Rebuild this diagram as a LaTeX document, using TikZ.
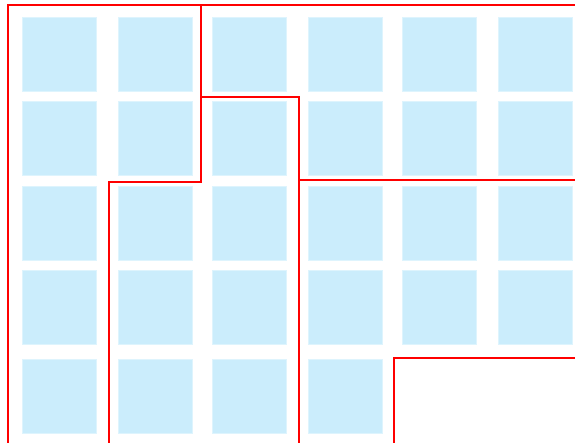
\documentclass[tikz,border=0pt]{standalone}
\definecolor{tile}{RGB}{203,237,252}
\definecolor{tileedge}{RGB}{222,244,253}
\definecolor{zone}{RGB}{255,0,0}
\begin{document}
\begin{tikzpicture}[x=1pt,y=-1pt,
  tilebox/.style={fill=tile,draw=tileedge,line width=0.6pt,minimum width=74pt,minimum height=74pt,inner sep=0pt,outer sep=0pt,anchor=north west},
  zoneline/.style={draw=zone,line width=2pt,line join=miter}]
\useasboundingbox (0,0) rectangle (575,443);
% tiles
\foreach \c/\x in {1/22.5,2/118.5,3/212.5,4/308,5/402.5,6/498}{
  \foreach \r/\y in {1/17.5,2/101.5,3/186.5,4/270.5}{
    \node[tilebox] (t\r\c) at (\x,\y) {};
  }
}
\foreach \c/\x in {1/22.5,2/118.5,3/212.5,4/308}{
  \node[tilebox] (t5\c) at (\x,359) {};
}
% zone boundaries
\draw[zoneline] (8,443) -- (8,5.5) -- (575,5.5);
\draw[zoneline] (201,5.5) -- (201,183.5);
\draw[zoneline] (201,182) -- (108.7,182) -- (108.7,443);
\draw[zoneline] (201,97.3) -- (298.7,97.3) -- (298.7,443);
\draw[zoneline] (298.7,180.5) -- (575,180.5);
\draw[zoneline] (575,357.8) -- (394,357.8) -- (394,443);
\end{tikzpicture}
\end{document}
